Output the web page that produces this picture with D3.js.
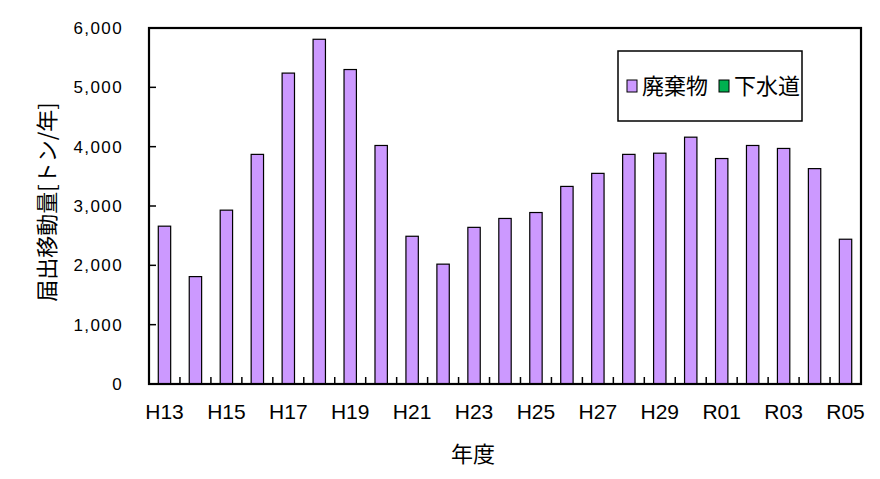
<!DOCTYPE html>
<html>
<head>
<meta charset="utf-8">
<script src="https://cdn.jsdelivr.net/npm/d3@7"></script>
<style>
  body { margin: 0; background: #fff; }
  text { font-family: "Liberation Sans", "Noto Sans CJK JP", sans-serif; fill: #000; }
  .jp { font-family: "Noto Sans CJK JP", sans-serif; }
</style>
</head>
<body>
<div id="chart"></div>
<script>
const years = ["H13", "H14", "H15", "H16", "H17", "H18", "H19", "H20", "H21", "H22", "H23", "H24",
  "H25", "H26", "H27", "H28", "H29", "H30", "R01", "R02", "R03", "R04", "R05"];
const haikibutsu = [2660, 1810, 2930, 3870, 5240, 5810, 5300, 4020, 2490, 2020, 2640, 2790,
  2890, 3330, 3550, 3870, 3890, 4160, 3800, 4020, 3970, 3630, 2440];
const yTicks = [0, 1000, 2000, 3000, 4000, 5000, 6000];
const xLabels = ["H13", "H15", "H17", "H19", "H21", "H23", "H25", "H27", "H29", "R01", "R03", "R05"];
const legendItems = [
  { name: "廃棄物", color: "#cc99ff" },
  { name: "下水道", color: "#00b050" }
];

const width = 880, height = 479;
const margin = { top: 28, right: 19, bottom: 95, left: 149 };
const innerW = width - margin.left - margin.right;
const innerH = height - margin.top - margin.bottom;

const svg = d3.select("#chart").append("svg")
  .attr("width", width)
  .attr("height", height);

const g = svg.append("g")
  .attr("transform", `translate(${margin.left},${margin.top})`);

const x = d3.scaleBand().domain(years).range([0, innerW]).paddingInner(0.6).paddingOuter(0.3);
const y = d3.scaleLinear().domain([0, 6000]).range([innerH, 0]);
const step = x.step();

// bars
g.selectAll("rect.bar")
  .data(years.map((d, i) => ({ year: d, value: haikibutsu[i] })))
  .enter()
  .append("rect")
  .attr("class", "bar")
  .attr("x", (d) => x(d.year))
  .attr("y", (d) => y(d.value))
  .attr("width", x.bandwidth())
  .attr("height", (d) => innerH - y(d.value))
  .attr("fill", "#cc99ff")
  .attr("stroke", "#000")
  .attr("stroke-width", 1.2);

// y axis ticks and labels
g.selectAll("line.ytick")
  .data(yTicks)
  .enter()
  .append("line")
  .attr("x1", 0)
  .attr("x2", 7)
  .attr("y1", (d) => y(d))
  .attr("y2", (d) => y(d))
  .attr("stroke", "#000")
  .attr("stroke-width", 1.5);

g.selectAll("text.ylab")
  .data(yTicks)
  .enter()
  .append("text")
  .attr("x", -26)
  .attr("y", (d) => y(d))
  .attr("dy", "0.36em")
  .attr("text-anchor", "end")
  .style("font-size", "17px")
  .style("letter-spacing", "1.4px")
  .text((d) => d3.format(",")(d));

// x ticks between categories, pointing up
g.selectAll("line.xtick")
  .data(d3.range(1, years.length))
  .enter()
  .append("line")
  .attr("x1", (i) => i * step)
  .attr("x2", (i) => i * step)
  .attr("y1", innerH)
  .attr("y2", innerH - 7)
  .attr("stroke", "#000")
  .attr("stroke-width", 1.5);

g.selectAll("text.xlab")
  .data(xLabels)
  .enter()
  .append("text")
  .attr("x", (d) => x(d) + x.bandwidth() / 2)
  .attr("y", innerH + 35)
  .attr("text-anchor", "middle")
  .style("font-size", "21px")
  .text((d) => d);

// plot frame
g.append("rect")
  .attr("x", 0)
  .attr("y", 0)
  .attr("width", innerW)
  .attr("height", innerH)
  .attr("fill", "none")
  .attr("stroke", "#000")
  .attr("stroke-width", 2.2);

// axis titles
svg.append("text")
  .attr("class", "jp")
  .attr("transform", "translate(47,202) rotate(-90)")
  .attr("text-anchor", "middle")
  .attr("dy", "0.36em")
  .style("font-size", "22px")
  .text("届出移動量[トン/年]");

svg.append("text")
  .attr("class", "jp")
  .attr("x", 473)
  .attr("y", 454)
  .attr("dy", "0.36em")
  .attr("text-anchor", "middle")
  .style("font-size", "22px")
  .text("年度");

// legend
const legend = svg.append("g").attr("transform", "translate(618,51)");
legend.append("rect")
  .attr("width", 184)
  .attr("height", 70)
  .attr("fill", "#fff")
  .attr("stroke", "#000")
  .attr("stroke-width", 1.5);

const item = legend.selectAll("g.item")
  .data(legendItems)
  .enter()
  .append("g")
  .attr("transform", (d, i) => `translate(${9 + i * 92},29)`);

item.append("rect")
  .attr("width", 10)
  .attr("height", 12)
  .attr("fill", (d) => d.color)
  .attr("stroke", "#000")
  .attr("stroke-width", 1);

item.append("text")
  .attr("class", "jp")
  .attr("x", 15)
  .attr("y", 6)
  .attr("dy", "0.36em")
  .style("font-size", "22px")
  .text((d) => d.name);
</script>
</body>
</html>
